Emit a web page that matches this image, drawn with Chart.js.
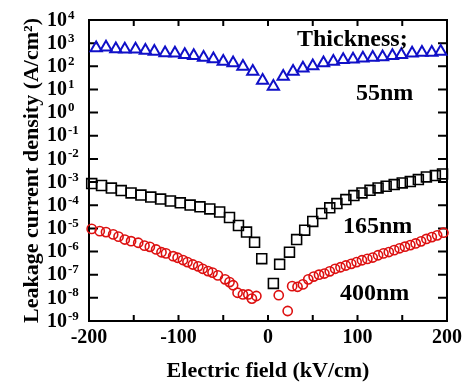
<!DOCTYPE html>
<html>
<head>
<meta charset="utf-8">
<script src="https://cdn.jsdelivr.net/npm/chart.js@4.4.0/dist/chart.umd.min.js"></script>
<style>
  html, body { margin: 0; padding: 0; background: #fff; }
</style>
</head>
<body>
<canvas id="chart" width="468" height="387"></canvas>
<script>
// ─────────────────────────────────────────
//  DATA
// ─────────────────────────────────────────
const x55 = [-192, -181, -170, -160, -148, -137, -127, -115, -104, -93, -83, -72, -61, -50, -39, -28, -17, -6,
             6, 17, 28, 39, 50, 62, 73, 84, 95, 106, 117, 128, 139, 149, 161, 172, 183, 193];
const y55 = [610, 660, 565, 550, 540, 480, 435, 380, 365, 315, 285, 240, 205, 160, 138, 98, 60, 24.5,
             13.5, 36, 60, 83, 104, 138, 162, 191, 204, 225, 240, 250, 283, 315, 370, 390, 390, 435];

const x165 = [-197, -186, -175, -164, -153, -142, -131, -120, -109, -98, -87, -76, -65, -54, -43, -33, -24, -15, -7,
              6, 13, 24, 32, 41, 50, 60, 69, 77, 87, 96, 105, 114, 123, 132, 141, 150, 159, 168, 177, 187, 195];
const y165 = [8.6e-4, 7.1e-4, 5.5e-4, 4.3e-4, 3.4e-4, 2.75e-4, 2.25e-4, 1.85e-4, 1.52e-4, 1.27e-4, 1.02e-4,
              8.5e-5, 6.9e-5, 5.1e-5, 2.95e-5, 1.33e-5, 6.9e-6, 2.5e-6, 4.9e-7,
              4.2e-8, 2.8e-7, 9.4e-7, 3.3e-6, 8.4e-6, 2.0e-5, 4.4e-5, 7.7e-5, 1.18e-4, 1.76e-4, 2.6e-4,
              3.4e-4, 4.4e-4, 5.6e-4, 6.6e-4, 7.8e-4, 9.2e-4, 1.05e-3, 1.28e-3, 1.67e-3, 1.9e-3, 2.25e-3];

const x400 = [-197, -188, -181, -173, -167, -160, -153, -145, -138, -132, -125, -119, -114, -106, -101, -95,
              -90, -84, -78, -73, -67, -62, -56, -48, -43, -39, -34, -28, -22, -18, -13,
              12, 22, 27, 33, 39, 45, 51, 57, 63, 69, 75, 81, 87, 93, 99, 105, 111, 117, 123, 129, 135,
              141, 147, 153, 159, 165, 171, 177, 183, 189, 196];
const y400 = [9.5e-6, 7.6e-6, 6.9e-6, 5.5e-6, 4.4e-6, 3.3e-6, 2.8e-6, 2.4e-6, 1.8e-6, 1.6e-6, 1.23e-6, 9.3e-7,
              8.3e-7, 6.3e-7, 5.4e-7, 4.3e-7, 3.5e-7, 2.75e-7, 2.3e-7, 1.8e-7, 1.43e-7, 1.23e-7, 9.3e-8,
              6.3e-8, 4.8e-8, 3.5e-8, 1.66e-8, 1.4e-8, 1.4e-8, 9.3e-9, 1.2e-8,
              1.3e-8, 2.7e-9, 3.2e-8, 3.0e-8, 3.8e-8, 6.3e-8, 8.3e-8, 1.0e-7, 1.12e-7, 1.4e-7, 1.8e-7,
              2.1e-7, 2.5e-7, 2.95e-7, 3.5e-7, 4.2e-7, 4.8e-7, 5.5e-7, 6.9e-7, 8.3e-7, 9.5e-7, 1.15e-6,
              1.38e-6, 1.62e-6, 1.9e-6, 2.24e-6, 2.75e-6, 3.5e-6, 4.2e-6, 5.0e-6, 6.5e-6];

const xTickMarks = [-150, -100, -50, 0, 50, 100, 150];
const yExponents = [4, 3, 2, 1, 0, -1, -2, -3, -4, -5, -6, -7, -8, -9];
const labels     = ['Thickness;', '55nm', '165nm', '400nm'];

// ─────────────────────────────────────────
//  HELPERS
// ─────────────────────────────────────────
const SERIF = '"Liberation Serif", "Times New Roman", serif';
const pts = (xs, ys) => xs.map((x, i) => ({ x, y: ys[i] }));

// frame, inward ticks, superscript y labels and text notes
const framePlugin = {
  id: 'frame',
  beforeDatasetsDraw(chart) {
    const { ctx, chartArea: a, scales: { x, y } } = chart;
    ctx.save();
    ctx.strokeStyle = '#000';
    ctx.lineWidth = 2;
    ctx.strokeRect(a.left, a.top, a.right - a.left, a.bottom - a.top);
    ctx.beginPath();
    xTickMarks.forEach(v => {
      const px = x.getPixelForValue(v);
      ctx.moveTo(px, a.bottom); ctx.lineTo(px, a.bottom - 6);
      ctx.moveTo(px, a.top);    ctx.lineTo(px, a.top + 6);
    });
    yExponents.slice(1, -1).forEach(e => {
      const py = y.getPixelForValue(Math.pow(10, e));
      ctx.moveTo(a.left, py);  ctx.lineTo(a.left + 9, py);
      ctx.moveTo(a.right, py); ctx.lineTo(a.right - 9, py);
    });
    ctx.stroke();
    ctx.restore();
  },
  afterDraw(chart) {
    const { ctx, scales: { y } } = chart;
    ctx.save();
    ctx.fillStyle = '#000';
    ctx.textAlign = 'left';
    yExponents.forEach(e => {
      const py = y.getPixelForValue(Math.pow(10, e));
      ctx.font = 'bold 20px ' + SERIF;
      ctx.textBaseline = 'middle';
      ctx.fillText('10', 47, py + 0.5);
      const w = ctx.measureText('10').width;
      ctx.font = 'bold 13px ' + SERIF;
      ctx.textBaseline = 'alphabetic';
      ctx.fillText(e < 0 ? '-' + (-e) : String(e), 47 + w + 1, py - 1.5);
    });

    ctx.font = 'bold 24px ' + SERIF;
    ctx.fillText(labels[0], 297, 46);
    ctx.fillText(labels[1], 356, 100);
    ctx.fillText(labels[2], 343, 233);
    ctx.fillText(labels[3], 340, 300);
    ctx.restore();
  },
};

// ─────────────────────────────────────────
//  CHART
// ─────────────────────────────────────────
const markerSet = (label, xs, ys, style, radius, color, width) => ({
  label,
  data: pts(xs, ys),
  showLine: false,
  clip: false,
  pointStyle: style,
  pointRadius: radius,
  pointHoverRadius: radius,
  pointBorderColor: color,
  pointBackgroundColor: 'rgba(0,0,0,0)',
  pointBorderWidth: width,
});

const axisFont  = { family: SERIF, size: 20, weight: 'bold' };
const titleFont = { family: SERIF, size: 22, weight: 'bold' };

new Chart(document.getElementById('chart').getContext('2d'), {
  type: 'scatter',
  data: {
    datasets: [
      markerSet('55nm',  x55,  y55,  'triangle', 6.5, '#1010c8', 2),
      markerSet('165nm', x165, y165, 'rect',     7,   '#000000', 1.6),
      markerSet('400nm', x400, y400, 'circle',   4.6, '#dd1010', 1.6),
    ],
  },
  options: {
    responsive: false,
    animation: false,
    layout: { padding: { left: 0, top: 20, right: 21, bottom: 0 } },
    plugins: { legend: { display: false }, tooltip: { enabled: false } },
    scales: {
      x: {
        type: 'linear',
        min: -200,
        max: 200,
        grid:   { display: false, drawTicks: false },
        border: { display: false },
        ticks:  { stepSize: 100, color: '#000', font: axisFont, padding: 5, maxRotation: 0 },
        title:  { display: true, text: 'Electric field (kV/cm)', color: '#000', font: titleFont,
                  padding: { top: 0, bottom: 2 } },
        afterFit(s) { s.height = 66; },
      },
      y: {
        type: 'logarithmic',
        min: 1e-9,
        max: 1e4,
        grid:   { display: false, drawTicks: false },
        border: { display: false },
        ticks:  { display: false },
        title:  { display: true, text: 'Leakage current density (A/cm²)', color: '#000', font: titleFont,
                  padding: { top: 19, bottom: 0 } },
        afterFit(s) { s.width = 89; },
      },
    },
  },
  plugins: [framePlugin],
});
</script>
</body>
</html>
